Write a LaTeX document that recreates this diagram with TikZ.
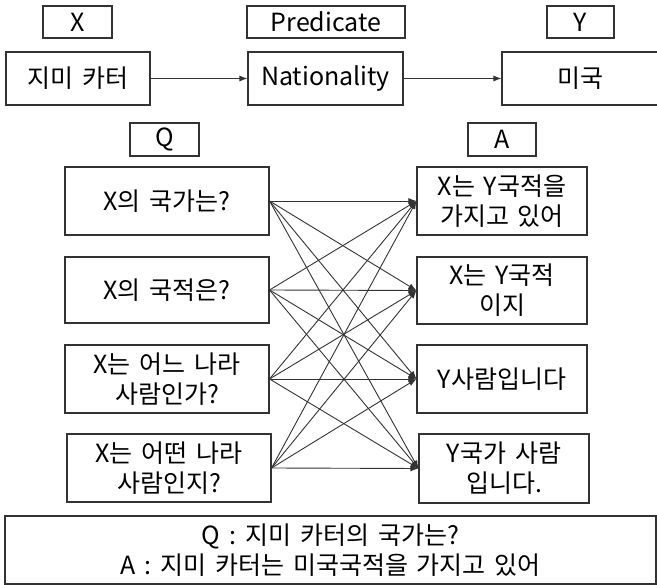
\documentclass[tikz,border=0pt]{standalone}
\usepackage{fontspec}
\setmainfont{Noto Sans CJK KR}[WordSpace=1.6]
\usetikzlibrary{arrows.meta}
\begin{document}
\begin{tikzpicture}[x=1pt,y=-1pt,
  box/.style={draw=black!80,line width=1.1pt,inner sep=0pt,align=center,
    font=\fontsize{25}{30}\selectfont,text=black},
  conn/.style={draw=black!80,line width=0.9pt,-{Latex[length=8pt,width=6pt]}}]
\useasboundingbox (0,0) rectangle (657,585);
\clip (0,0) rectangle (657,585);
% top row
\node[box,minimum width=69pt,minimum height=32pt] (lx) at (77.5,22) {X};
\node[box,minimum width=158pt,minimum height=32pt] (lp) at (326,22) {Predicate};
\node[box,minimum width=67pt,minimum height=32pt] (ly) at (580.5,22) {Y};
\node[box,minimum width=144pt,minimum height=53pt] (jimi) at (78,78.5) {지미 카터};
\node[box,minimum width=155pt,minimum height=53pt] (nat) at (325.5,78.5) {Nationality};
\node[box,minimum width=156pt,minimum height=53pt] (mig) at (580,78.5) {미국};
\draw[conn] (jimi) -- (nat);
\draw[conn] (nat) -- (mig);
% labels
\node[box,minimum width=69pt,minimum height=33pt] (lq) at (164.5,139.5) {Q};
\node[box,minimum width=68pt,minimum height=33pt] (la) at (502,139.5) {A};
% Q boxes
\node[box,minimum width=204pt,minimum height=68pt] (q1) at (167,201) {X의 국가는?};
\node[box,minimum width=204pt,minimum height=66pt] (q2) at (167,290) {X의 국적은?};
\node[box,minimum width=204pt,minimum height=68pt] (q3) at (167,379) {X는 어느 나라\\사람인가?};
\node[box,minimum width=204pt,minimum height=68pt] (q4) at (169,468) {X는 어떤 나라\\사람인지?};
% A boxes
\node[box,minimum width=170pt,minimum height=68pt] (a1) at (502,201) {X는 Y국적을\\가지고 있어};
\node[box,minimum width=170pt,minimum height=67pt] (a2) at (502,290.5) {X는 Y국적\\이지};
\node[box,minimum width=170pt,minimum height=68pt] (a3) at (502,379) {Y사람입니다};
\node[box,minimum width=170pt,minimum height=69pt] (a4) at (504,468.5) {Y국가 사람\\입니다.};
% connectors
\foreach \q in {q1,q2,q3,q4}
  \foreach \a in {a1,a2,a3,a4}
    \draw[conn] (\q.east) -- (\a.west);
% bottom
\node[box,minimum width=651pt,minimum height=68pt] (ex) at (330.5,550) {Q : 지미 카터의 국가는?\\A : 지미 카터는 미국국적을 가지고 있어};
\end{tikzpicture}
\end{document}
